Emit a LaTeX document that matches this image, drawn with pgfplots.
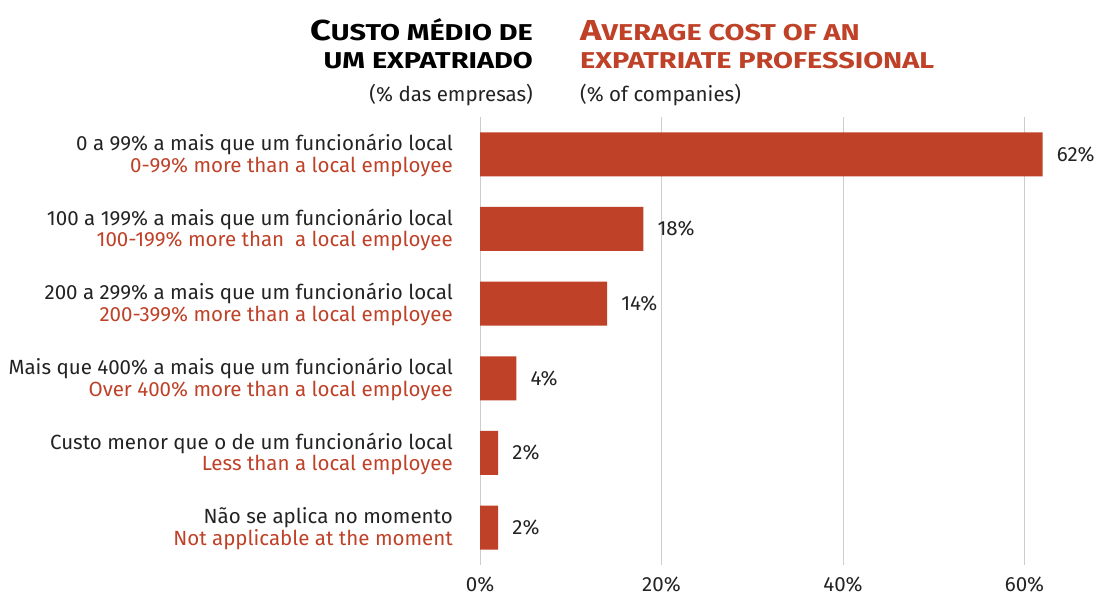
\documentclass[border=0pt]{standalone}
\usepackage{pgfplots}
\pgfplotsset{compat=1.18}
\usepackage{fontspec}
\setmainfont{Fira Sans}
\definecolor{bred}{RGB}{190,65,40}
\definecolor{txt}{RGB}{35,35,35}
\definecolor{gridc}{RGB}{205,205,205}
\newcommand{\bigc}[1]{{\fontsize{29}{29}\selectfont #1}}
\newcommand{\smc}[1]{{\fontsize{23}{23}\selectfont #1}}
\newcommand{\wide}[1]{\scalebox{1.26}[1]{#1}}
\newcommand{\bodyf}{\fontsize{20.6}{22}\selectfont}
\begin{document}
\begin{tikzpicture}[x=1bp,y=1bp]
\path[use as bounding box] (0,0) rectangle (1104,596);
\begin{axis}[
  at={(480bp,31bp)}, anchor=south west,
  scale only axis, width=562.65bp, height=448bp,
  xmin=0, xmax=62, ymin=-0.5, ymax=5.5, y dir=reverse,
  xbar, bar width=44bp, bar shift=0pt,
  axis line style={draw=none},
  tick style={draw=none},
  major tick length=0pt,
  xtick={0,20,40,60},
  xticklabel={\pgfmathprintnumber{\tick}\%},
  /pgf/number format/assume math mode=true,
  xmajorgrids, grid style={gridc, line width=1bp},
  xticklabel style={font=\bodyf, text=txt, inner sep=0pt, yshift=-12bp},
  ytick={0,1,2,3,4,5},
  yticklabels={
    {0 a 99\% a mais que um funcionário local\\\textcolor{bred}{0-99\% more than a local employee}},
    {100 a 199\% a mais que um funcionário local\\\textcolor{bred}{100-199\% more than\ \ a local employee}},
    {200 a 299\% a mais que um funcionário local\\\textcolor{bred}{200-399\% more than a local employee}},
    {Mais que 400\% a mais que um funcionário local\\\textcolor{bred}{Over 400\% more than a local employee}},
    {Custo menor que o de um funcionário local\\\textcolor{bred}{Less than a local employee}},
    {Não se aplica no momento\\\textcolor{bred}{Not applicable at the moment}}
  },
  yticklabel style={align=right, font=\bodyf, text=txt, inner sep=0pt, xshift=-27bp, yshift=-1bp},
  nodes near coords={\pgfmathprintnumber{\pgfplotspointmeta}\%},
  every node near coord/.append style={anchor=west, inner sep=0pt, xshift=14bp, font=\bodyf, text=txt},
  clip=false,
]
\addplot[fill=bred, draw=none] coordinates {(62,0) (18,1) (14,2) (4,3) (2,4) (2,5)};
\end{axis}
\node[anchor=base east, inner sep=0pt, font=\bfseries, text=black] at (533,596-41) {\wide{\bigc{C}\smc{USTO MÉDIO DE}}};
\node[anchor=base east, inner sep=0pt, font=\bfseries, text=black] at (533,596-69) {\wide{\smc{UM EXPATRIADO}}};
\node[anchor=base east, inner sep=0pt, font=\bodyf, text=txt] at (533,596-102) {(\% das empresas)};
\node[anchor=base west, inner sep=0pt, font=\bfseries, text=bred] at (580,596-41) {\wide{\bigc{A}\smc{VERAGE COST OF AN}}};
\node[anchor=base west, inner sep=0pt, font=\bfseries, text=bred] at (580,596-69) {\wide{\smc{EXPATRIATE PROFESSIONAL}}};
\node[anchor=base west, inner sep=0pt, font=\bodyf, text=txt] at (580,596-102) {(\% of companies)};
\end{tikzpicture}
\end{document}
